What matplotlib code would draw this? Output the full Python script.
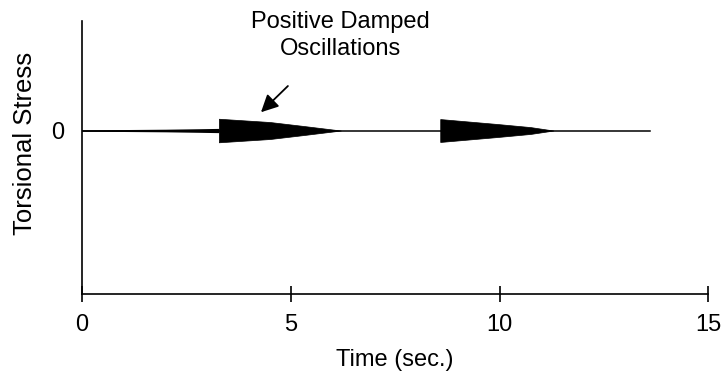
#!/usr/bin/env python3
"""Torsional stress vs time with positive damped oscillations."""

import matplotlib
matplotlib.use("Agg")
import matplotlib.pyplot as plt

plt.rcParams["font.family"] = ["Liberation Sans", "DejaVu Sans"]

# baseline signal runs from 0 to signal_end
signal_end = 13.6

# small noisy band before the first event (half width of envelope)
noise_t = [0.0, 1.0, 2.0, 2.8, 3.28]
noise_amp = [0.005, 0.006, 0.008, 0.011, 0.013]

# damped oscillation envelopes (half amplitude)
wedge1_t = [3.28, 4.5, 5.3, 6.2]
wedge1_amp = [0.072, 0.052, 0.028, 0.0]
wedge2_t = [8.58, 9.94, 10.74, 11.29]
wedge2_amp = [0.070, 0.040, 0.021, 0.0]

x_ticks = [0, 5, 10, 15]
y_ticks = [0]


def main() -> None:
    fig = plt.figure(figsize=(7.25, 3.77), dpi=100)
    ax = fig.add_axes([0.113, 0.220, 0.864, 0.724])

    ax.plot([0, signal_end], [0, 0], color="black", lw=1.1)

    ax.fill_between(noise_t, [-a for a in noise_amp], noise_amp, color="black", lw=0)
    for t, amp in [(wedge1_t, wedge1_amp), (wedge2_t, wedge2_amp)]:
        lo = [-a for a in amp]
        ax.fill_between(t, lo, amp, color="black", lw=0.5, edgecolor="black")

    ax.set_xlim(0, 15)
    ax.set_ylim(-1, 0.669)
    ax.set_xticks(x_ticks)
    ax.set_yticks(y_ticks)
    ax.tick_params(axis="x", direction="inout", length=12, width=1.2, pad=8, labelsize=17)
    ax.tick_params(axis="y", length=0, pad=13, labelsize=17)

    for side in ["top", "right"]:
        ax.spines[side].set_visible(False)
    for side in ["left", "bottom"]:
        ax.spines[side].set_linewidth(1.2)

    ax.set_xlabel("Time (sec.)", fontsize=17, labelpad=10)
    ax.set_ylabel("Torsional Stress", fontsize=18.5)
    ax.yaxis.set_label_coords(-0.072, 0.553)

    ax.text(6.18, 0.58, "Positive Damped\nOscillations", ha="center", va="center",
            fontsize=17, linespacing=1.3)
    ax.annotate("", xy=(4.24, 0.10), xytext=(4.98, 0.284),
                arrowprops=dict(arrowstyle="-|>", mutation_scale=26, lw=1.3, color="black"))

    fig.savefig("out.png", dpi=100)
    plt.close(fig)


if __name__ == "__main__":
    main()
